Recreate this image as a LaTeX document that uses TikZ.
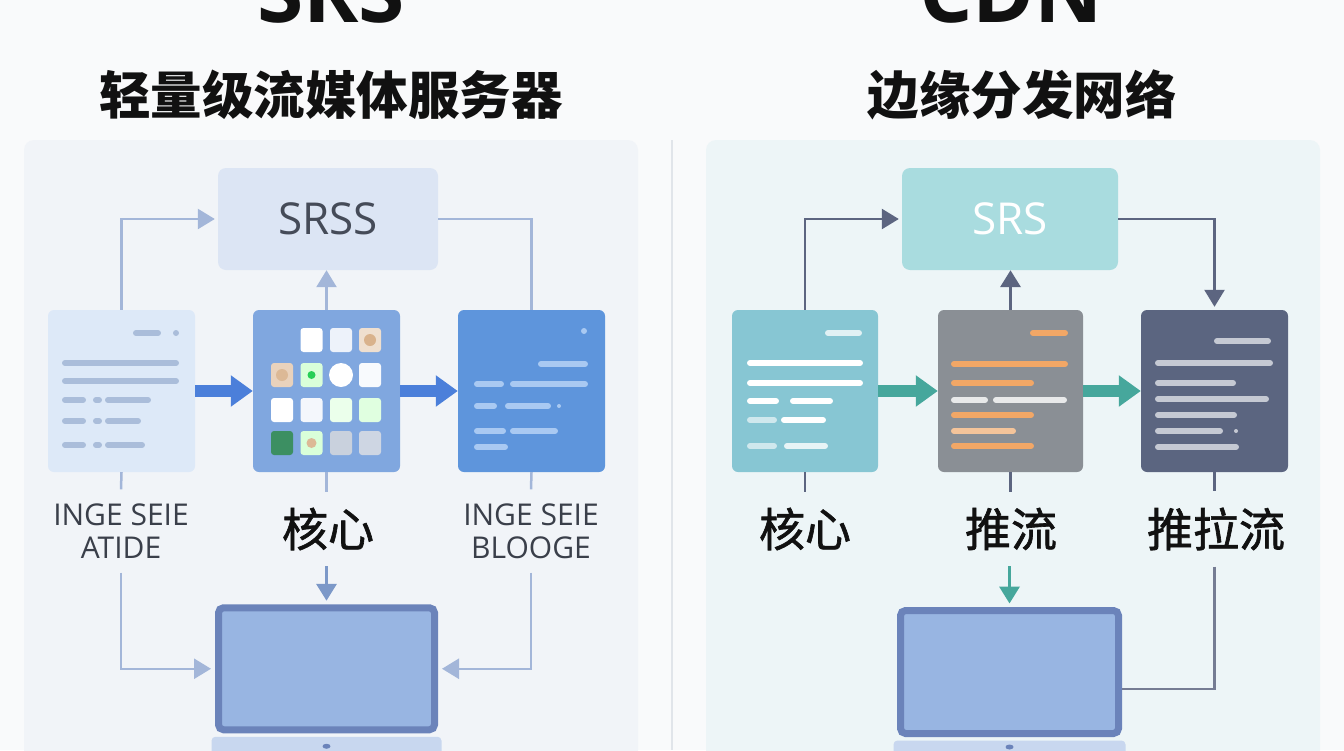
\documentclass[tikz,border=0pt]{standalone}
\usepackage{fontspec}
\newfontfamily\cjk{Noto Sans CJK SC}
\newfontfamily\cjkmid{Noto Sans CJK SC}[FakeBold=1.4]
\newfontfamily\lsans{Open Sans}
\usetikzlibrary{arrows.meta}
\definecolor{pagebg}{HTML}{F9FAFB}
\definecolor{lpanel}{HTML}{F1F4F8}
\definecolor{rpanel}{HTML}{EDF5F7}
\definecolor{divider}{HTML}{E1E5EA}
\definecolor{srssfill}{HTML}{DCE5F4}
\definecolor{srsstext}{HTML}{454B58}
\definecolor{lconn}{HTML}{A3B6D9}
\definecolor{ldown}{HTML}{7C98C8}
\definecolor{ldocA}{HTML}{DDE9F8}
\definecolor{ldocB}{HTML}{80A7DF}
\definecolor{ldocC}{HTML}{5E95DC}
\definecolor{lline}{HTML}{AABDDA}
\definecolor{rline}{HTML}{A9C9F2}
\definecolor{lblue}{HTML}{4B7FDA}
\definecolor{monframe}{HTML}{6B83BA}
\definecolor{monscreen}{HTML}{98B5E2}
\definecolor{bezel}{HTML}{C8D7EF}
\definecolor{srsfill}{HTML}{A9DCDF}
\definecolor{rconn}{HTML}{5C6580}
\definecolor{rdocA}{HTML}{87C6D3}
\definecolor{rdocB}{HTML}{8A8F95}
\definecolor{rdocC}{HTML}{5B6580}
\definecolor{teal}{HTML}{46A79C}
\definecolor{orange}{HTML}{F2A766}
\definecolor{peach}{HTML}{F4C49A}
\definecolor{slateline}{HTML}{C5C9D3}
\definecolor{tilegreen}{HTML}{3C8F62}
\definecolor{labtext}{HTML}{3A3F4A}
\definecolor{titletext}{HTML}{111111}
\tikzset{
  panel/.style={rounded corners=10pt},
  hub/.style={rectangle, rounded corners=8pt, minimum width=220pt, minimum height=102pt, inner sep=0pt, font=\lsans\fontsize{44}{44}\selectfont},
  doc/.style={rectangle, rounded corners=6pt, minimum width=147pt, minimum height=162pt, inner sep=0pt},
  tile/.style={rectangle, rounded corners=3pt, minimum width=22pt, minimum height=24pt, inner sep=0pt},
  monitor/.style={rectangle, rounded corners=5pt, line width=7pt, draw=monframe, fill=monscreen, minimum width=216pt, minimum height=122pt, inner sep=0pt},
  conn/.style={line width=2.5pt},
  arrowend/.style={-{Triangle[length=17pt,width=20pt]}},
  fat/.style={line width=12pt, -{Triangle[length=22pt,width=30pt]}},
  dl/.style={line width=6pt, line cap=round},
  entxt/.style={font=\lsans\fontsize{30}{33}\selectfont, text=labtext, align=center, inner xsep=0pt, inner ysep=14pt},
  zhtxt/.style={font=\cjkmid\fontsize{46}{46}\selectfont, text=titletext, inner xsep=0pt, inner ysep=16pt},
  bigtitle/.style={font=\lsans\bfseries\fontsize{84}{84}\selectfont, text=titletext, anchor=base},
  subtitle/.style={font=\cjk\bfseries\fontsize{51.5}{51.5}\selectfont, text=titletext}
}
\begin{document}
\begin{tikzpicture}[x=1pt,y=-1pt]
  \clip (0,0) rectangle (1344,750);
  \fill[pagebg] (0,0) rectangle (1344,750);
  \fill[panel,lpanel] (24,140) rectangle (638,790);
  \fill[panel,rpanel] (706,140) rectangle (1320,790);
  \draw[divider,line width=1.5pt] (672,140) -- (672,750);

  \node[bigtitle] (ltitle) at (331,22) {SRS};
  \node[subtitle] (lsub) at (331,95) {轻量级流媒体服务器};
  \node[bigtitle] (rtitle) at (1011,22) {CDN};
  \node[subtitle] (rsub) at (1022,95) {边缘分发网络};

  \node[hub, fill=srssfill, text=srsstext] (lhub) at (328,219) {SRSS};
  \node[doc, fill=ldocA] (ldoc) at (121.5,391) {};
  \node[doc, fill=ldocB] (lcdoc) at (326.5,391) {};
  \node[doc, fill=ldocC] (lrdoc) at (531.5,391) {};
  \node[entxt] (llab) at (121,531) {INGE SEIE\\ATIDE};
  \node[zhtxt] (lclab) at (328,529) {核心};
  \node[entxt] (lrlab) at (531,531) {INGE SEIE\\BLOOGE};
  \node[monitor] (lmon) at (326.5,668.75) {};
  \fill[bezel, rounded corners=4pt] ([xshift=-3.5pt,yshift=-3.5pt]lmon.south west) rectangle ([xshift=3.5pt,yshift=-40pt]lmon.south east);
  \fill[monframe] ([yshift=-13pt]lmon.south) ellipse (4pt and 2.5pt);

  \draw[dl,lline] (136,333) -- (158,333);
  \fill[lline] (176,333) circle (3pt);
  \draw[dl,lline] (65,363) -- (176,363);
  \draw[dl,lline] (65,381) -- (176,381);
  \draw[dl,lline] (65,400) -- (83,400) (96,400) -- (99,400) (108,400) -- (148,400);
  \draw[dl,lline] (65,421) -- (83,421) (96,421) -- (99,421) (108,421) -- (138,421);
  \draw[dl,lline] (65,445) -- (83,445) (96,445) -- (99,445) (108,445) -- (142,445);

  \node[tile, fill=white] (t12) at (311.5,340) {};
  \node[tile, fill=white!50!srssfill] (t13) at (341,340) {};
  \node[tile, fill=brown!25] (t14) at (370,340) {};
  \fill[brown!60] (370,340) circle (6pt);
  \node[tile, fill=brown!35] (t21) at (282,375) {};
  \fill[brown!55] (282,375) circle (6pt);
  \node[tile, fill=green!15] (t22) at (311.5,375) {};
  \fill[green!45!teal] (311.5,375) circle (4pt);
  \fill[white] (341,375) circle (12pt);
  \node[tile, fill=white!80!srssfill] (t24) at (370,375) {};
  \node[tile, fill=white] (t31) at (282,410) {};
  \node[tile, fill=white!70!srssfill] (t32) at (311.5,410) {};
  \node[tile, fill=green!8] (t33) at (341,410) {};
  \node[tile, fill=green!12] (t34) at (370,410) {};
  \node[tile, fill=tilegreen] (t41) at (282,443) {};
  \node[tile, fill=green!15] (t42) at (311.5,443) {};
  \fill[brown!55] (311.5,443) circle (5pt);
  \node[tile, fill=srssfill!80!gray] (t43) at (341,443) {};
  \node[tile, fill=srssfill!85!gray] (t44) at (370,443) {};

  \fill[rline] (584,331) circle (3pt);
  \draw[dl,rline] (541,364) -- (585,364);
  \draw[dl,rline] (477,384) -- (501,384) (513,384) -- (585,384);
  \draw[dl,rline] (477,406) -- (494,406) (508,406) -- (548,406);
  \fill[rline] (559,406) circle (2pt);
  \draw[dl,rline] (477,431) -- (503,431) (513,431) -- (555,431);
  \draw[dl,rline] (477,447) -- (505,447);

  \draw[conn,lconn,arrowend,shorten >=3pt] (ldoc.north) |- (lhub.west);
  \draw[conn,lconn] (lhub.east) -| (lrdoc.north);
  \draw[conn,lconn,arrowend] (lcdoc.north) -- (lcdoc.north |- lhub.south);
  \draw[fat,lblue] (ldoc.east) -- (lcdoc.west);
  \draw[fat,lblue] (lcdoc.east) -- (lrdoc.west);
  \draw[conn,lconn] (ldoc.south) -- (llab.north);
  \draw[conn,lconn] (lcdoc.south) -- (lclab.north -| lcdoc.south);
  \draw[conn,lconn] (lrdoc.south) -- (lrlab.north);
  \draw[conn,lconn,arrowend,shorten >=4pt] (llab.south) |- (lmon.west);
  \draw[conn,lconn,arrowend,shorten >=4pt] (lrlab.south) |- (lmon.east);
  \draw[conn,ldown,line width=3.5pt,arrowend,shorten >=3.5pt] (lclab.south -| lmon.north) -- (lmon.north);

  \node[hub, minimum width=216pt, fill=srsfill, text=white] (rhub) at (1010,219) {SRS};
  \node[doc, minimum width=146pt, fill=rdocA] (rldoc) at (805,391) {};
  \node[doc, minimum width=145pt, fill=rdocB] (rcdoc) at (1010.5,391) {};
  \node[doc, fill=rdocC] (rrdoc) at (1214.5,391) {};
  \node[zhtxt] (rllab) at (805,529) {核心};
  \node[zhtxt] (rclab) at (1011,529) {推流};
  \node[zhtxt] (rrlab) at (1216,529) {推拉流};
  \node[monitor, minimum width=218pt, minimum height=123pt] (rmon) at (1009.5,672) {};
  \fill[bezel, rounded corners=4pt] ([xshift=-3.5pt,yshift=-3.5pt]rmon.south west) rectangle ([xshift=3.5pt,yshift=-40pt]rmon.south east);
  \fill[monframe] ([yshift=-10pt]rmon.south) ellipse (4pt and 2.5pt);

  \draw[dl,white!75!rdocA] (828,333) -- (859,333);
  \draw[dl,white] (750,363) -- (860,363);
  \draw[dl,white] (750,383) -- (860,383);
  \draw[dl,white] (750,401) -- (776,401) (793,401) -- (830,401);
  \draw[dl,white!60!rdocA] (750,420) -- (774,420);
  \draw[dl,white] (784,420) -- (823,420);
  \draw[dl,white!60!rdocA] (750,446) -- (774,446);
  \draw[dl,white!80!rdocA] (787,446) -- (825,446);

  \draw[dl,orange] (1033,333) -- (1065,333);
  \draw[dl,orange] (954,364) -- (1065,364);
  \draw[dl,orange] (954,383) -- (1031,383);
  \draw[dl,white!80!rdocB] (954,400) -- (985,400) (996,400) -- (1064,400);
  \draw[dl,orange] (954,415) -- (1031,415);
  \draw[dl,peach] (954,431) -- (1013,431);
  \draw[dl,orange] (954,446) -- (1031,446);

  \draw[dl,slateline] (1217,341) -- (1268,341);
  \draw[dl,slateline] (1158,363) -- (1270,363);
  \draw[dl,slateline] (1158,383) -- (1233,383);
  \draw[dl,slateline] (1158,399) -- (1266,399);
  \draw[dl,slateline] (1158,415) -- (1234,415);
  \draw[dl,slateline] (1158,431) -- (1220,431);
  \fill[slateline] (1236,431) circle (2pt);
  \draw[dl,slateline] (1158,447) -- (1236,447);

  \draw[conn,rconn,arrowend,shorten >=3pt] (rldoc.north) |- (rhub.west);
  \draw[conn,rconn,arrowend,shorten >=3pt] (rhub.east) -| (rrdoc.north);
  \draw[conn,rconn,line width=3.5pt,arrowend] (rcdoc.north) -- (rcdoc.north |- rhub.south);
  \draw[fat,teal] (rldoc.east) -- (rcdoc.west);
  \draw[fat,teal] (rcdoc.east) -- (rrdoc.west);
  \draw[conn,rconn] (rldoc.south) -- (rllab.north -| rldoc.south);
  \draw[conn,rconn] (rcdoc.south) -- (rclab.north -| rcdoc.south);
  \draw[conn,rconn] (rrdoc.south) -- (rrlab.north -| rrdoc.south);
  \draw[conn,teal,line width=3.5pt,arrowend,shorten >=3.5pt] (rclab.south -| rmon.north) -- (rmon.north);
  \draw[conn,rconn!85!white] (rrlab.south -| rrdoc.south) |- ([yshift=-17pt]rmon.east);
\end{tikzpicture}
\end{document}
